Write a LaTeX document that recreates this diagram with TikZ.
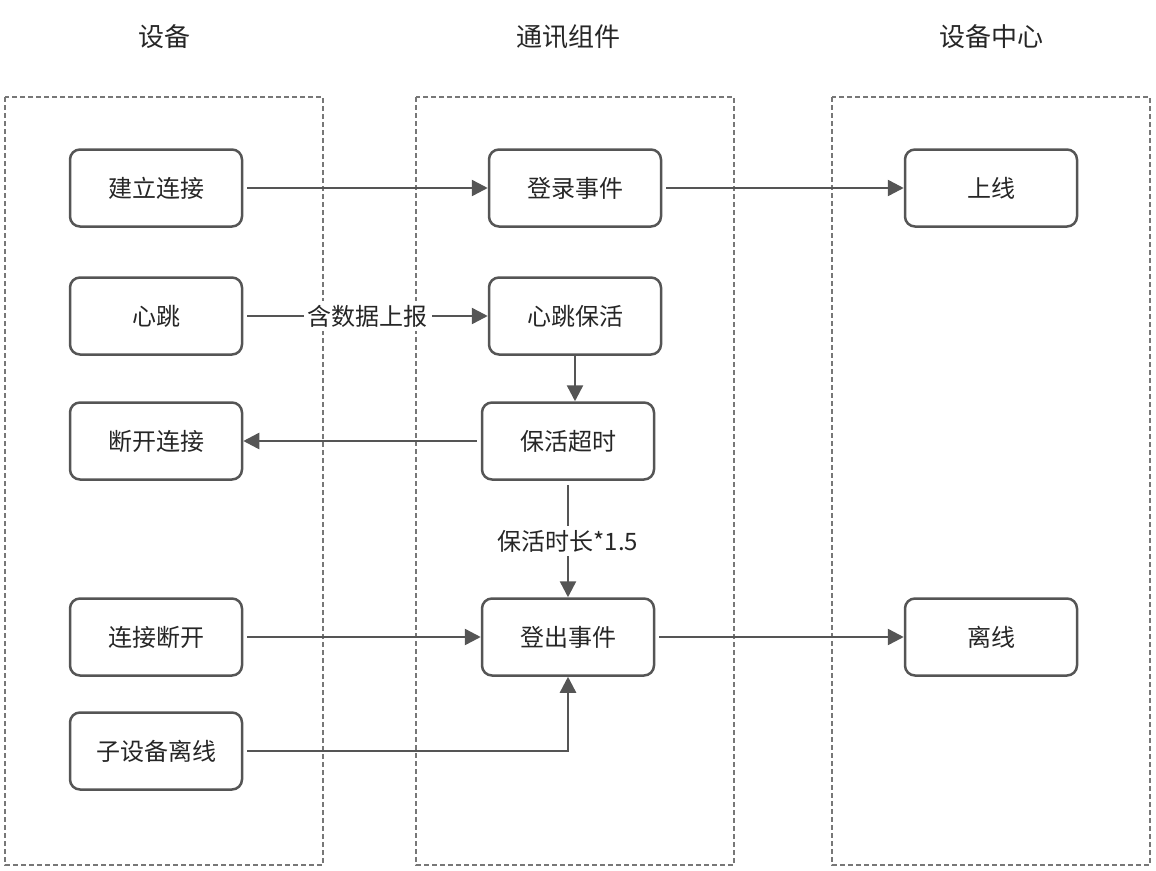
\documentclass[tikz,border=0pt]{standalone}
\usepackage{fontspec}
\setmainfont{Noto Sans CJK SC}
\usetikzlibrary{arrows.meta}
\definecolor{ln}{HTML}{555555}
\begin{document}
\begin{tikzpicture}[x=1pt,y=-1pt,
  box/.style={draw=ln,line width=2.5pt,rounded corners=10pt,minimum width=172pt,minimum height=77pt,font=\fontsize{24}{28}\selectfont,text=black!85},
  col/.style={draw=ln!80,dashed,line width=1.2pt,dash pattern=on 5pt off 3pt},
  arr/.style={draw=ln,line width=2.5pt,-{Triangle[length=16pt,width=16pt]}},
  lab/.style={fill=white,font=\fontsize{24}{28}\selectfont,text=black!85,inner sep=4pt},
  head/.style={font=\fontsize{26}{30}\selectfont,text=black!85}]
\useasboundingbox (0,0) rectangle (1156,870);
\draw[col] (5,97) rectangle (323,865);
\draw[col] (416,97) rectangle (734,865);
\draw[col] (832,97) rectangle (1150,865);
\node[head] (h1) at (164,37) {设备};
\node[head] (h2) at (568,37) {通讯组件};
\node[head] (h3) at (991,37) {设备中心};
\node[box] (a1) at (156,188) {建立连接};
\node[box] (a2) at (156,316) {心跳};
\node[box] (a3) at (156,441) {断开连接};
\node[box] (a4) at (156,637) {连接断开};
\node[box] (a5) at (156,751) {子设备离线};
\node[box] (b1) at (575,188) {登录事件};
\node[box] (b2) at (575,316) {心跳保活};
\node[box] (b3) at (568,441) {保活超时};
\node[box] (b4) at (568,637) {登出事件};
\node[box] (c1) at (991,188) {上线};
\node[box] (c2) at (991,637) {离线};
\draw[arr] ([xshift=4pt]a1.east) -- (b1.west);
\draw[arr] ([xshift=4pt]b1.east) -- (c1.west);
\draw[arr] ([xshift=4pt]a2.east) -- node[lab] (l1) {含数据上报} (b2.west);
\draw[arr] (b2.south) -- (b2.south |- b3.north);
\draw[arr] ([xshift=-4pt]b3.west) -- (a3.east);
\draw[arr] ([yshift=-4pt]b3.south) -- node[lab] (l2) {保活时长*1.5} (b4.north);
\draw[arr] ([xshift=4pt]a4.east) -- (b4.west);
\draw[arr] ([xshift=4pt]a5.east) -| (b4.south);
\draw[arr] ([xshift=4pt]b4.east) -- (c2.west);
\end{tikzpicture}
\end{document}
